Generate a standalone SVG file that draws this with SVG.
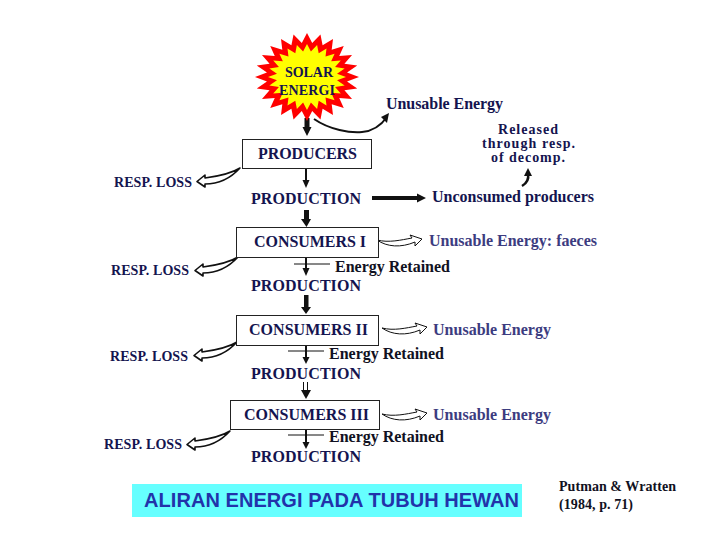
<svg xmlns="http://www.w3.org/2000/svg" width="720" height="540" viewBox="0 0 720 540">
<style>
text{font-family:"Liberation Serif","Times New Roman",serif;font-size:16px;font-weight:700;fill:#14144f}
.s{font-size:14px}
.k{fill:#111122}
.u{fill:#3c3c80}
.box{fill:#fff;stroke:#222;stroke-width:1}
.f{fill:#111;stroke:none}
.l{fill:none;stroke:#111;stroke-width:1}
.m{fill:none;stroke:#111;stroke-width:2}
.r{fill:#fff;stroke:#111;stroke-width:1.600;stroke-linejoin:round}
.w{fill:#fff;stroke:#111;stroke-width:1;stroke-linejoin:round}
</style>
<defs>
<polygon id="star" points="100,0 77,10 96.6,25.9 72,30 86.6,50 62,47.5 70.7,70.7 47.5,62 50,86.6 30,72 25.9,96.6 10,77 0,100 -10,77 -25.9,96.6 -30,72 -50,86.6 -47.5,62 -70.7,70.7 -62,47.5 -86.6,50 -72,30 -96.6,25.9 -77,10 -100,0 -77,-10 -96.6,-25.9 -72,-30 -86.6,-50 -62,-47.5 -70.7,-70.7 -47.5,-62 -50,-86.6 -30,-72 -25.9,-96.6 -10,-77 0,-100 10,-77 25.9,-96.6 30,-72 50,-86.6 47.5,-62 70.7,-70.7 62,-47.5 86.6,-50 72,-30 96.6,-25.9 77,-10"/>
<path id="resp" d="M0,0C-8,5 -20,8 -35,10L-35,7L-43,13.500L-35,19L-35,16C-22,16 -10,11 0,0Z"/>
<path id="unus" d="M0,0C12,3 24,0 35,-2L33,-5L45,-1L38,6L38,2C24,8 10,7 0,0Z"/>
</defs>
<g id="connectors">
<path class="f" d="M304.500,118h5v9h2l-4.500,9l-4.500,-9h2z"/>
<path d="M314,119C330,130 350,133 362,132C375,131 382,124 387,117" fill="none" stroke="#111" stroke-width="2"/>
<path class="f" d="M381,117L389,113L387,123z"/>
<path class="m" d="M306,168V181"/><path class="f" d="M302.500,180h7l-3.500,8z"/>
<path class="f" d="M304,210h5v9h2l-4.500,8l-5.500,-8h3z"/>
<path class="m" d="M306,257V269"/><path class="l" d="M294,264H330"/><path class="f" d="M302.500,268h7l-3.500,8z"/>
<path class="f" d="M304,295h4.500v12h2.500l-5,7l-5,-7h3z"/>
<path class="m" d="M306,345V358"/><path class="l" d="M288,351H324"/><path class="f" d="M302.500,357h7l-3.500,7z"/>
<path class="l" d="M303.500,382V392M307.500,382V392"/><path class="f" d="M301,390h10l-5,9z"/>
<path class="m" d="M306,429V443"/><path class="l" d="M288,435H324"/><path class="f" d="M302.500,442h7l-3.500,7z"/>
<path class="f" d="M372,196H417V193.500L426,198L417,202.500V200H372z"/>
<path d="M522,186C527,183 529,179 528,174" fill="none" stroke="#111" stroke-width="2.500"/><path class="f" d="M524,176L528,168L532,176z"/>
<use href="#resp" x="240" y="168" class="r"/>
<use href="#resp" x="238" y="257" class="r"/>
<use href="#resp" x="237" y="342" class="r"/>
<use href="#resp" x="230" y="431" class="r"/>
<use href="#unus" x="377" y="240" class="w"/>
<use href="#unus" x="382" y="328" class="w"/>
<use href="#unus" x="382" y="414" class="w"/>
</g>
<g id="solar">
<use href="#star" transform="translate(307,77) scale(.52,.44)" fill="#f00"/>
<use href="#star" transform="translate(307,77) scale(.39,.33)" fill="#ff0"/>
<text class="s" x="285" y="77" textLength="48">SOLAR</text>
<text class="s" x="279" y="95" textLength="56">ENERGI</text>
</g>
<g id="producers"><rect class="box" x="242.500" y="139.500" width="129" height="29"/><text x="258" y="159" textLength="99">PRODUCERS</text></g>
<g id="production1"><text x="251" y="204" textLength="110">PRODUCTION</text></g>
<g id="consumers1"><rect class="box" x="236.500" y="227.500" width="142" height="30"/><text x="254" y="247" textLength="112">CONSUMERS I</text></g>
<g id="production2"><text x="251" y="291" textLength="110">PRODUCTION</text></g>
<g id="consumers2"><rect class="box" x="236.500" y="315.500" width="142" height="30"/><text x="249" y="335" textLength="119">CONSUMERS II</text></g>
<g id="production3"><text x="251" y="379" textLength="110">PRODUCTION</text></g>
<g id="consumers3"><rect class="box" x="230.500" y="400.500" width="149" height="29"/><text x="244" y="420" textLength="125">CONSUMERS III</text></g>
<g id="production4"><text x="251" y="462" textLength="110">PRODUCTION</text></g>
<g id="resp1"><text class="s" x="114" y="187" textLength="78">RESP. LOSS</text></g>
<g id="resp2"><text class="s" x="111" y="275" textLength="78">RESP. LOSS</text></g>
<g id="resp3"><text class="s" x="110" y="361" textLength="78">RESP. LOSS</text></g>
<g id="resp4"><text class="s" x="104" y="449" textLength="78">RESP. LOSS</text></g>
<g id="unusable1"><text x="386" y="109" textLength="117">Unusable Energy</text></g>
<g id="released"><text class="s" x="498" y="134" textLength="60">Released</text><text class="s" x="482" y="148" textLength="93">through resp.</text><text class="s" x="491" y="162" textLength="74">of decomp.</text></g>
<g id="unconsumed"><text x="432" y="202" textLength="162">Unconsumed producers</text></g>
<g id="faeces"><text class="u" x="429" y="246" textLength="168">Unusable Energy: faeces</text></g>
<g id="retained1"><text class="k" x="335" y="272" textLength="115">Energy Retained</text></g>
<g id="unusable2"><text class="u" x="433" y="335" textLength="118">Unusable Energy</text></g>
<g id="retained2"><text class="k" x="329" y="359" textLength="115">Energy Retained</text></g>
<g id="unusable3"><text class="u" x="433" y="420" textLength="118">Unusable Energy</text></g>
<g id="retained3"><text class="k" x="329" y="442" textLength="115">Energy Retained</text></g>
<g id="title"><rect x="132" y="484" width="390" height="33" fill="#66ffff"/><text x="144" y="507" textLength="375" style="font-family:'Liberation Sans',Arial,sans-serif;font-size:20px;font-weight:700;fill:#2233aa">ALIRAN ENERGI PADA TUBUH HEWAN</text></g>
<g id="citation"><text class="k s" x="559" y="491" textLength="117">Putman &amp; Wratten</text><text class="k s" x="559" y="509" textLength="74">(1984, p. 71)</text></g>
</svg>
